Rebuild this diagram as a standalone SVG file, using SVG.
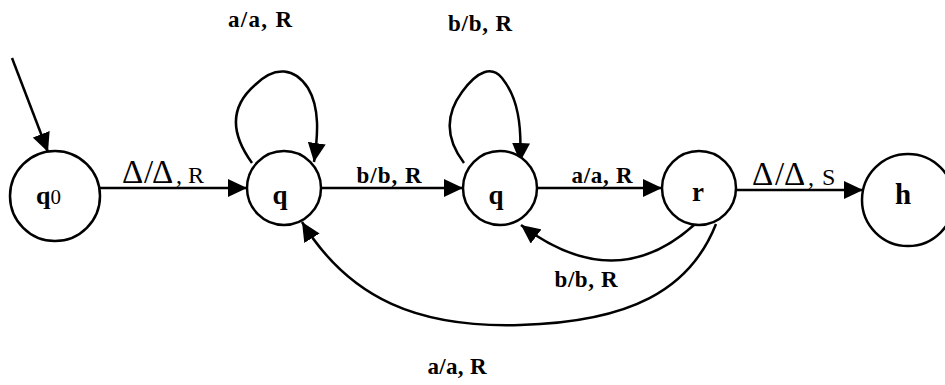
<svg xmlns="http://www.w3.org/2000/svg" width="945" height="385" viewBox="0 0 945 385" font-family="Liberation Serif, Times New Roman, serif">
<style>
.n{fill:#fff;stroke:#000;stroke-width:2.5}
.e{fill:none;stroke:#000;stroke-width:2.5}
.lb{font-size:23px;font-weight:bold;text-anchor:middle}
.nl{font-size:27px;font-weight:bold;text-anchor:middle}
.d{font-size:33px}
.s{font-size:24px}
</style>
<defs>
<marker id="ah" markerUnits="userSpaceOnUse" markerWidth="20" markerHeight="18" refX="19" refY="9" orient="auto">
<path d="M0,0 L19,9 L0,18 z" fill="#000"/>
</marker>
</defs>
<rect width="945" height="385" fill="#fff"/>
<g id="connectors">
<line class="e" x1="12" y1="58" x2="48" y2="152" marker-end="url(#ah)"/>
<line class="e" x1="100" y1="188" x2="247" y2="188" marker-end="url(#ah)"/>
<path class="e" d="M252,163 C228,130 232,105 255,85 C275,65 295,68 308,88 C320,108 318,135 314,162" marker-end="url(#ah)"/>
<line class="e" x1="321" y1="188" x2="463" y2="188" marker-end="url(#ah)"/>
<path class="e" d="M464,163 C445,138 445,115 462,92 C478,70 492,66 502,78 C518,98 522,125 520,162" marker-end="url(#ah)"/>
<line class="e" x1="537" y1="188" x2="662" y2="188" marker-end="url(#ah)"/>
<line class="e" x1="736" y1="190" x2="863" y2="190" marker-end="url(#ah)"/>
<path class="e" d="M694,225 Q615,296 521,225" marker-end="url(#ah)"/>
<path class="e" d="M716,224 C690,290 630,322 520,325 C420,328 350,300 302,222" marker-end="url(#ah)"/>
</g>
<g id="labels">
<text class="lb" x="260" y="27" textLength="64" lengthAdjust="spacing">a/a, R</text>
<text class="lb" x="480" y="31" textLength="64" lengthAdjust="spacing">b/b, R</text>
<text y="183"><tspan class="d" x="122">Δ</tspan><tspan class="d" x="144">/</tspan><tspan class="d" x="152">Δ</tspan><tspan class="s" x="176">,</tspan><tspan class="s" x="188">R</tspan></text>
<text class="lb" x="389" y="183" textLength="65" lengthAdjust="spacing">b/b, R</text>
<text class="lb" x="602" y="183" textLength="61" lengthAdjust="spacing">a/a, R</text>
<text y="185"><tspan class="d" x="752">Δ</tspan><tspan class="d" x="775">/</tspan><tspan class="d" x="784">Δ</tspan><tspan class="s" x="808">,</tspan><tspan class="s" x="822">S</tspan></text>
<text class="lb" x="586" y="287" textLength="63" lengthAdjust="spacing">b/b, R</text>
<text class="lb" x="457" y="374" textLength="59" lengthAdjust="spacing">a/a, R</text>
</g>
<g id="q0">
<circle class="n" cx="55" cy="196" r="45"/>
<text x="36" y="204" font-size="26" font-weight="bold">q<tspan font-size="21" font-weight="normal">0</tspan></text>
</g>
<g id="q1">
<circle class="n" cx="284" cy="188" r="37"/>
<text class="nl" x="280" y="204">q</text>
</g>
<g id="q2">
<circle class="n" cx="500" cy="188" r="37"/>
<text class="nl" x="496" y="204">q</text>
</g>
<g id="r">
<circle class="n" cx="699" cy="188" r="37"/>
<text class="nl" x="698" y="201">r</text>
</g>
<g id="h">
<circle class="n" cx="908" cy="200" r="46"/>
<text x="903" y="204" font-size="29" font-weight="bold" text-anchor="middle">h</text>
</g>
</svg>
